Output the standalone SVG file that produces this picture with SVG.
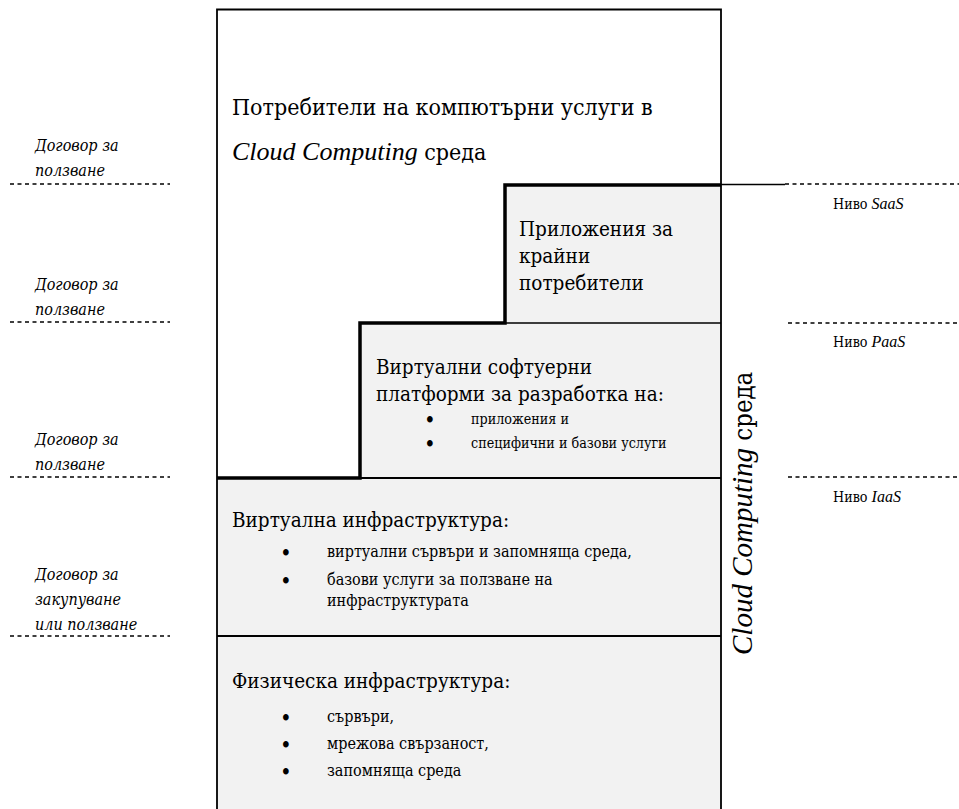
<svg xmlns="http://www.w3.org/2000/svg" width="959" height="809" viewBox="0 0 959 809">
<rect width="959" height="809" fill="#ffffff"/>
<g id="layers" fill="#f2f2f2" stroke="none">
<rect x="505" y="185" width="216" height="138"/>
<rect x="360" y="323" width="361" height="155"/>
<rect x="217" y="478" width="504" height="158"/>
<rect x="217" y="636" width="504" height="173"/>
</g>
<g id="frame" stroke="#000" fill="none" stroke-width="1.8">
<path d="M217 809 V9.5 H721 V809"/>
<line x1="505" y1="323" x2="721" y2="323" stroke-width="1.3"/>
<line x1="360" y1="478" x2="721" y2="478"/>
<line x1="217" y1="636" x2="721" y2="636"/>
</g>
<g id="connectors" stroke="#000" fill="none">
<path d="M217 478 H360 V323 H505 V185 H721" stroke-width="3.5"/>
<line x1="721" y1="184.5" x2="785" y2="184.5" stroke-width="1.3"/>
<g stroke-width="1.6" stroke-dasharray="4 3.5">
<line x1="10" y1="184" x2="170" y2="184"/>
<line x1="10" y1="322" x2="170" y2="322"/>
<line x1="10" y1="477" x2="170" y2="477"/>
<line x1="10" y1="636" x2="170" y2="636"/>
<line x1="785" y1="184" x2="959" y2="184"/>
<line x1="788" y1="323" x2="959" y2="323"/>
<line x1="788" y1="477" x2="959" y2="477"/>
</g>
</g>
<g id="consumers" font-family="'DejaVu Serif Condensed', 'DejaVu Serif', serif" font-size="23" fill="#000">
<text x="232" y="115">Потребители на компютърни услуги в</text>
<text x="232" y="160"><tspan font-family="'Liberation Serif', serif" font-size="26" font-style="italic">Cloud Computing</tspan> среда</text>
</g>
<g id="saas" font-family="'DejaVu Serif Condensed', 'DejaVu Serif', serif" font-size="20.5" fill="#000">
<text x="519" y="236">Приложения за</text>
<text x="519" y="263">крайни</text>
<text x="519" y="290">потребители</text>
</g>
<g id="paas" font-family="'DejaVu Serif Condensed', 'DejaVu Serif', serif" font-size="20.5" fill="#000">
<text x="376" y="374">Виртуални софтуерни</text>
<text x="376" y="401">платформи за разработка на:</text>
<text x="424" y="428" font-size="22">•</text>
<text x="471" y="424" font-size="14.2">приложения и</text>
<text x="424" y="452" font-size="22">•</text>
<text x="471" y="448" font-size="14.2">специфични и базови услуги</text>
</g>
<g id="iaas" font-family="'DejaVu Serif Condensed', 'DejaVu Serif', serif" font-size="16" fill="#000">
<text x="232" y="527" font-size="20.5">Виртуална инфраструктура:</text>
<text x="280" y="561" font-size="22">•</text>
<text x="327" y="557">виртуални сървъри и запомняща среда,</text>
<text x="280" y="589" font-size="22">•</text>
<text x="327" y="585">базови услуги за ползване на</text>
<text x="327" y="606">инфраструктурата</text>
</g>
<g id="physical" font-family="'DejaVu Serif Condensed', 'DejaVu Serif', serif" font-size="16" fill="#000">
<text x="232" y="688" font-size="20.5">Физическа инфраструктура:</text>
<text x="280" y="726" font-size="22">•</text>
<text x="327" y="722">сървъри,</text>
<text x="280" y="753" font-size="22">•</text>
<text x="327" y="749">мрежова свързаност,</text>
<text x="280" y="780" font-size="22">•</text>
<text x="327" y="776">запомняща среда</text>
</g>
<g id="contracts" font-family="'DejaVu Serif Condensed', 'DejaVu Serif', serif" font-size="16" font-style="italic" fill="#000">
<text x="35" y="151">Договор за</text>
<text x="35" y="176">ползване</text>
<text x="35" y="290">Договор за</text>
<text x="35" y="315">ползване</text>
<text x="35" y="445">Договор за</text>
<text x="35" y="470">ползване</text>
<text x="35" y="580">Договор за</text>
<text x="35" y="605">закупуване</text>
<text x="35" y="630">или ползване</text>
</g>
<g id="levels" font-family="'DejaVu Serif Condensed', 'DejaVu Serif', serif" font-size="14.2" fill="#000">
<text x="833" y="209">Ниво <tspan font-family="'Liberation Serif', serif" font-size="16" font-style="italic">SaaS</tspan></text>
<text x="833" y="347">Ниво <tspan font-family="'Liberation Serif', serif" font-size="16" font-style="italic">PaaS</tspan></text>
<text x="833" y="502">Ниво <tspan font-family="'Liberation Serif', serif" font-size="16" font-style="italic">IaaS</tspan></text>
</g>
<g id="cloud-label" font-family="'DejaVu Serif Condensed', 'DejaVu Serif', serif" font-size="25.5" fill="#000">
<text transform="translate(752,655) rotate(-90)"><tspan font-family="'Liberation Serif', serif" font-size="29" font-style="italic">Cloud Computing</tspan> среда</text>
</g>
</svg>
